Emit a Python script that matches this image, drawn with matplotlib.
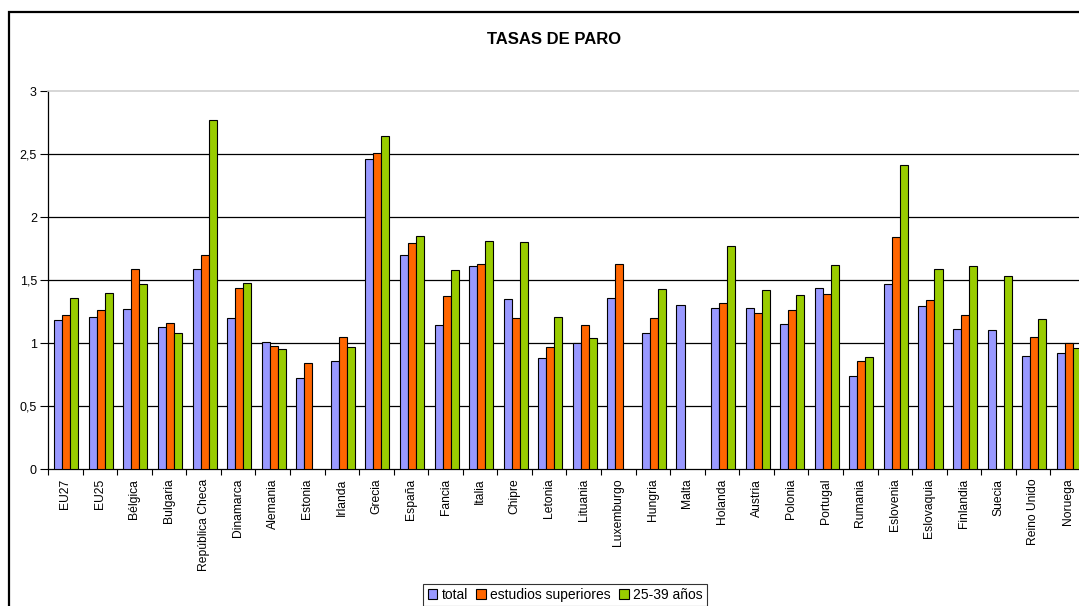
import matplotlib
matplotlib.use('Agg')

import numpy as np
import matplotlib.pyplot as plt
from matplotlib.patches import Rectangle

plt.rcParams['font.family'] = ['Liberation Sans', 'DejaVu Sans']

# ===== Data
paises = ['EU27', 'EU25', 'Bélgica', 'Bulgaria', 'República Checa', 'Dinamarca',
          'Alemania', 'Estonia', 'Irlanda', 'Grecia', 'España', 'Fancia', 'Italia',
          'Chipre', 'Letonia', 'Lituania', 'Luxemburgo', 'Hungria', 'Malta', 'Holanda',
          'Austria', 'Polonia', 'Portugal', 'Rumania', 'Eslovenia', 'Eslovaquia',
          'Finlandia', 'Suecia', 'Reino Unido', 'Noruega']

total     = [1.18, 1.21, 1.27, 1.13, 1.59, 1.20, 1.01, 0.72, 0.86, 2.46, 1.70, 1.14, 1.61,
             1.35, 0.88, 1.00, 1.36, 1.08, 1.30, 1.28, 1.28, 1.15, 1.44, 0.74, 1.47, 1.29,
             1.11, 1.10, 0.90, 0.92]
superiores = [1.22, 1.26, 1.59, 1.16, 1.70, 1.44, 0.98, 0.84, 1.05, 2.51, 1.79, 1.37, 1.63,
              1.20, 0.97, 1.14, 1.63, 1.20, np.nan, 1.32, 1.24, 1.26, 1.39, 0.86, 1.84, 1.34,
              1.22, np.nan, 1.05, 1.00]
jovenes   = [1.36, 1.40, 1.47, 1.08, 2.77, 1.48, 0.95, np.nan, 0.97, 2.64, 1.85, 1.58, 1.81,
             1.80, 1.21, 1.04, np.nan, 1.43, np.nan, 1.77, 1.42, 1.38, 1.62, 0.89, 2.41, 1.59,
             1.61, 1.53, 1.19, 0.96]

series    = ['total', 'estudios superiores', '25-39 años']
yticks    = [0, 0.5, 1, 1.5, 2, 2.5, 3]
ylabels   = ['0', '0,5', '1', '1,5', '2', '2,5', '3']

colores   = ['#9999FF', '#FF6600', '#99CC00']

# ===== Figure
W, H = 1079, 606
fig = plt.figure(figsize=(W/100, H/100), dpi=100)

# Chart area border (extends past right/bottom edge, as in the reference)
fig.patches.append(Rectangle((9/W, -0.1), 1.2, 1 - 12/H + 0.1, transform=fig.transFigure,
                             fill=False, edgecolor='black', linewidth=1.6, clip_on=False))

ax = fig.add_axes([48/W, 1 - 469/H, (1085 - 48)/W, (469 - 91)/H])

x  = np.arange(len(paises))
bw = 0.232
for k, (vals, col, lab) in enumerate(zip([total, superiores, jovenes], colores, series)):
   ax.bar(x + (k - 1)*bw + 0.03, vals, width=bw, color=col, edgecolor='black',
          linewidth=0.8, label=lab, zorder=3)

# Axes & grid
ax.set_xlim(-0.5, len(paises) - 0.5)
ax.set_ylim(0, 3)
ax.set_yticks(yticks)
ax.set_yticklabels(ylabels, fontsize=9)
for yv in yticks[1:-1]:
   ax.axhline(yv, color='black', linewidth=0.9, zorder=1)

ax.set_xticks(x)
ax.set_xticklabels(paises, rotation=90, fontsize=8.7)
ax.set_xticks(np.arange(-0.5, len(paises), 1.0), minor=True)
ax.tick_params(axis='x', which='major', length=0, pad=7)
ax.tick_params(axis='x', which='minor', length=4, width=0.8, direction='out')
ax.tick_params(axis='y', length=6, width=0.8, pad=2)

ax.spines['right'].set_visible(False)
ax.spines['top'].set_color('#d0d0d0')
ax.spines['top'].set_linewidth(1.2)
ax.spines['left'].set_linewidth(0.9)
ax.spines['bottom'].set_linewidth(0.9)

# Title
fig.text(554/W, 1 - 40/H, 'TASAS DE PARO', ha='center', va='center',
         fontsize=12, fontweight='bold')

# Legend
lgd = fig.legend(loc='upper center', bbox_to_anchor=(565/W, 1 - 584/H), ncol=3,
                 fontsize=10, frameon=True, fancybox=False, borderpad=0.3,
                 handlelength=0.7, handleheight=0.7, handletextpad=0.3,
                 columnspacing=0.6, borderaxespad=0)
lgd.get_frame().set_edgecolor('black')
lgd.get_frame().set_linewidth(0.8)

plt.savefig('out.png', dpi=100)
plt.close()
